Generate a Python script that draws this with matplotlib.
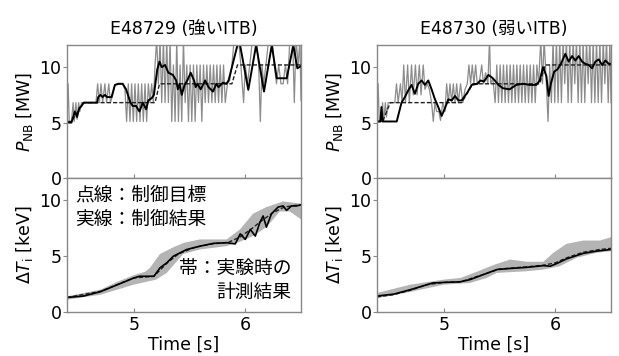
import numpy as np
import matplotlib
matplotlib.use("Agg")
import matplotlib.pyplot as plt

plt.rcParams['font.family'] = ['DejaVu Sans', 'Noto Sans CJK JP']
plt.rcParams['mathtext.fontset'] = 'dejavusans'

titles = ["E48729 (強いITB)", "E48730 (弱いITB)"]

# ---------------- top: P_NB ----------------
L_raw_t = [4.400, 4.410, 4.420, 4.440, 4.455, 4.465, 4.480, 4.490, 4.505, 4.515, 4.530, 4.660,
           4.675, 4.690, 4.705, 4.720, 4.740, 4.755, 4.775, 4.790, 4.810, 4.830, 4.900, 4.920,
           4.935, 4.950, 4.965, 4.980, 4.995, 5.010, 5.025, 5.040, 5.055, 5.070, 5.085, 5.100,
           5.115, 5.130, 5.145, 5.160, 5.175, 5.190, 5.205, 5.220, 5.235, 5.250, 5.265, 5.280,
           5.295, 5.310, 5.325, 5.340, 5.355, 5.370, 5.385, 5.400, 5.415, 5.430, 5.445, 5.460,
           5.475, 5.490, 5.505, 5.520, 5.535, 5.550, 5.565, 5.580, 5.595, 5.610, 5.625, 5.640,
           5.655, 5.670, 5.685, 5.700, 5.715, 5.730, 5.745, 5.760, 5.775, 5.790, 5.805, 5.820,
           5.840, 5.860, 5.880, 5.900, 5.940, 5.960, 5.985, 6.000, 6.020, 6.040, 6.065, 6.100,
           6.120, 6.135, 6.150, 6.165, 6.185, 6.210, 6.240, 6.260, 6.280, 6.300, 6.320, 6.340,
           6.360, 6.380, 6.400, 6.425, 6.440, 6.455, 6.475, 6.490, 6.500]
L_raw_v = [5.1, 8.5, 5.1, 5.1, 6.8, 5.1, 6.8, 5.3, 6.8, 6.0, 6.8, 6.8,
           8.5, 6.8, 8.5, 6.8, 8.5, 6.8, 8.5, 6.8, 7.5, 8.4, 8.5, 8.0,
           5.1, 8.5, 5.1, 8.5, 5.1, 8.5, 5.1, 8.5, 5.1, 8.5, 5.1, 8.5,
           5.1, 8.5, 6.8, 8.5, 6.8, 10.2, 12.5, 8.5, 12.5, 6.8, 12.5, 6.8,
           12.5, 6.8, 12.5, 5.1, 10.2, 5.1, 12.5, 5.1, 10.2, 5.1, 12.5, 6.8,
           10.2, 5.1, 10.2, 5.1, 10.2, 5.1, 10.2, 6.8, 10.2, 5.1, 10.2, 6.8,
           10.2, 6.8, 10.2, 6.8, 10.2, 6.8, 10.2, 6.8, 10.2, 6.8, 10.2, 6.8,
           8.5, 8.8, 10.2, 12.5, 12.5, 10.2, 6.8, 10.2, 8.5, 10.2, 12.5, 12.5,
           10.2, 5.1, 10.2, 8.5, 10.2, 12.5, 12.5, 10.2, 8.5, 10.2, 8.5, 8.5,
           10.2, 8.5, 12.5, 12.5, 6.8, 12.5, 10.2, 12.5, 7.0]
L_res_t = [4.400, 4.440, 4.470, 4.490, 4.510, 4.530, 4.550, 4.670, 4.680, 4.700, 4.720, 4.740,
           4.760, 4.800, 4.830, 4.860, 4.900, 4.930, 4.970, 4.990, 5.020, 5.050, 5.080, 5.110,
           5.130, 5.160, 5.180, 5.210, 5.230, 5.250, 5.280, 5.310, 5.350, 5.380, 5.395, 5.410,
           5.430, 5.455, 5.480, 5.510, 5.540, 5.555, 5.570, 5.600, 5.640, 5.670, 5.710, 5.740,
           5.760, 5.800, 5.830, 5.850, 5.880, 5.930, 5.953, 6.027, 6.097, 6.168, 6.238, 6.282,
           6.372, 6.431, 6.467, 6.500]
L_res_v = [5.0, 5.0, 6.0, 5.5, 6.3, 6.5, 6.8, 6.8, 7.3, 7.5, 7.3, 7.5,
           7.3, 7.3, 8.4, 8.5, 8.5, 8.0, 6.8, 6.5, 6.5, 6.0, 6.8, 6.2,
           7.0, 7.2, 7.5, 9.8, 10.5, 10.0, 10.2, 9.5, 9.3, 8.8, 8.0, 8.5,
           7.5, 8.4, 8.8, 9.5, 8.8, 8.2, 8.5, 8.0, 8.8, 8.2, 7.8, 8.5,
           8.2, 8.6, 8.5, 8.8, 10.0, 12.0, 12.0, 7.95, 12.0, 7.8, 12.0, 9.0,
           9.0, 12.0, 9.9, 10.1]
L_tgt_t = [4.40, 4.44, 4.55, 5.19, 5.23, 5.88, 5.93, 6.50]
L_tgt_v = [5.1, 5.1, 6.8, 6.8, 8.5, 8.5, 10.2, 10.2]

R_raw_t = [4.400, 4.410, 4.420, 4.440, 4.450, 4.460, 4.475, 4.485, 4.500, 4.520, 4.560, 4.575,
           4.590, 4.610, 4.625, 4.640, 4.655, 4.675, 4.690, 4.710, 4.725, 4.745, 4.760, 4.780,
           4.795, 4.815, 4.830, 4.850, 4.870, 4.890, 4.905, 4.920, 4.935, 4.955, 4.970, 4.990,
           5.010, 5.025, 5.040, 5.055, 5.070, 5.085, 5.100, 5.115, 5.130, 5.150, 5.170, 5.190,
           5.210, 5.225, 5.240, 5.255, 5.270, 5.285, 5.300, 5.320, 5.340, 5.355, 5.375, 5.395,
           5.410, 5.420, 5.440, 5.460, 5.475, 5.490, 5.505, 5.520, 5.535, 5.550, 5.565, 5.580,
           5.595, 5.610, 5.625, 5.640, 5.655, 5.670, 5.685, 5.700, 5.715, 5.730, 5.745, 5.760,
           5.775, 5.790, 5.805, 5.820, 5.835, 5.850, 5.870, 5.885, 5.900, 5.920, 5.935, 5.950,
           5.965, 5.980, 5.995, 6.010, 6.025, 6.040, 6.055, 6.070, 6.085, 6.100, 6.115, 6.130,
           6.145, 6.160, 6.175, 6.190, 6.205, 6.220, 6.235, 6.250, 6.265, 6.280, 6.295, 6.310,
           6.325, 6.340, 6.355, 6.370, 6.385, 6.400, 6.415, 6.430, 6.445, 6.460, 6.475, 6.490,
           6.500]
R_raw_v = [5.1, 8.5, 5.1, 5.1, 6.8, 5.1, 6.8, 5.5, 6.8, 6.8, 6.8, 8.5,
           6.8, 8.5, 6.8, 10.2, 6.8, 10.2, 6.8, 10.2, 7.5, 10.2, 7.5, 10.2,
           7.5, 10.2, 8.0, 8.5, 8.0, 6.8, 5.1, 6.8, 6.0, 6.0, 5.2, 6.8,
           6.0, 8.5, 6.8, 8.5, 6.8, 8.5, 6.8, 8.5, 6.8, 8.5, 6.8, 8.0,
           8.5, 10.2, 8.5, 10.2, 8.5, 10.2, 8.5, 8.8, 10.2, 8.5, 9.5, 8.5,
           12.5, 8.5, 9.0, 6.8, 10.2, 6.8, 10.2, 6.8, 10.2, 6.8, 10.2, 6.8,
           10.2, 6.8, 10.2, 6.8, 10.2, 6.8, 10.2, 6.8, 10.2, 6.8, 10.2, 6.8,
           10.2, 6.8, 10.2, 6.8, 10.2, 8.5, 12.5, 8.5, 12.5, 8.5, 5.1, 10.2,
           6.8, 12.5, 6.8, 12.5, 6.8, 12.5, 6.8, 12.5, 8.5, 12.5, 6.8, 12.5,
           6.8, 12.5, 8.5, 12.5, 6.8, 12.5, 6.8, 12.5, 6.8, 12.5, 8.5, 12.5,
           6.8, 12.5, 6.8, 12.5, 6.8, 12.5, 6.8, 12.5, 8.5, 12.5, 6.8, 12.5,
           6.8]
R_res_t = [4.400, 4.430, 4.440, 4.450, 4.577, 4.620, 4.650, 4.680, 4.710, 4.740, 4.770, 4.800,
           4.830, 4.860, 4.890, 4.920, 4.950, 4.980, 5.010, 5.040, 5.070, 5.100, 5.130, 5.160,
           5.210, 5.250, 5.300, 5.330, 5.360, 5.400, 5.440, 5.490, 5.530, 5.590, 5.650, 5.710,
           5.770, 5.830, 5.860, 5.890, 5.920, 5.940, 5.960, 5.990, 6.020, 6.050, 6.090, 6.120,
           6.150, 6.180, 6.210, 6.240, 6.270, 6.300, 6.330, 6.360, 6.390, 6.420, 6.450, 6.480,
           6.500]
R_res_v = [5.1, 5.1, 6.4, 5.1, 5.1, 6.8, 7.3, 7.9, 8.4, 7.6, 8.5, 8.8,
           8.4, 8.8, 8.0, 7.1, 6.4, 5.6, 6.3, 7.1, 7.0, 7.4, 7.0, 7.0,
           7.7, 8.4, 8.5, 8.8, 8.7, 9.3, 9.0, 8.4, 8.1, 8.0, 8.4, 8.5,
           8.4, 8.4, 8.8, 10.0, 9.2, 7.4, 8.5, 9.6, 9.8, 10.3, 11.2, 10.5,
           11.0, 10.6, 11.0, 10.5, 10.3, 10.2, 9.9, 10.5, 10.7, 10.2, 10.6, 10.3,
           10.3]
R_tgt_t = [4.40, 4.45, 4.52, 5.16, 5.26, 5.86, 5.91, 6.50]
R_tgt_v = [5.1, 5.1, 6.8, 6.8, 8.5, 8.5, 10.2, 10.2]

# ---------------- bottom: delta Ti ----------------
L_ti_t = [4.40, 4.55, 4.70, 4.85, 5.00, 5.05, 5.18, 5.235, 5.295, 5.355, 5.475, 5.595,
          5.715, 5.835, 5.91, 5.955, 6.00, 6.045, 6.09, 6.13, 6.16, 6.19, 6.235, 6.295,
          6.34, 6.37, 6.415, 6.46, 6.50]
L_ti_v = [1.30, 1.43, 1.82, 2.43, 3.05, 3.20, 3.20, 3.96, 4.40, 5.00, 5.60, 5.90,
          6.15, 6.20, 6.10, 7.00, 6.50, 7.40, 6.80, 8.00, 8.60, 7.60, 8.80, 9.40,
          9.50, 9.10, 9.50, 9.50, 9.60]
L_tit_t = [4.40, 4.70, 5.00, 5.18, 5.30, 5.40, 5.55, 5.70, 5.85, 5.95, 6.05, 6.15,
           6.25, 6.35, 6.45, 6.50]
L_tit_v = [1.30, 1.85, 3.05, 3.20, 4.40, 5.20, 5.80, 6.10, 6.25, 6.70, 7.40, 8.20,
           8.90, 9.40, 9.55, 9.60]
L_up_t = [4.40, 4.70, 4.85, 5.00, 5.10, 5.145, 5.235, 5.355, 5.45, 5.594, 5.833, 5.953,
          6.07, 6.19, 6.34, 6.50]
L_up_v = [1.40, 2.00, 2.70, 3.30, 3.60, 3.96, 5.20, 5.80, 6.20, 6.50, 6.50, 7.40,
          8.80, 9.40, 9.90, 9.70]
L_lo_t = [4.40, 4.70, 5.00, 5.20, 5.295, 5.444, 5.594, 5.833, 5.953, 6.07, 6.19, 6.31,
          6.40, 6.50]
L_lo_v = [1.10, 1.55, 2.45, 2.90, 3.50, 5.20, 5.60, 5.90, 6.30, 6.80, 7.60, 9.00,
          9.00, 8.30]

R_ti_t = [4.40, 4.55, 4.70, 4.85, 4.90, 5.00, 5.145, 5.235, 5.355, 5.475, 5.595, 5.745,
          5.895, 5.955, 6.015, 6.10, 6.25, 6.37, 6.50]
R_ti_v = [1.43, 1.60, 2.00, 2.45, 2.60, 2.65, 2.70, 2.90, 3.35, 3.80, 3.90, 4.00,
          4.15, 4.10, 4.35, 4.75, 5.25, 5.45, 5.60]
R_tit_t = [4.40, 4.55, 4.70, 4.85, 5.00, 5.15, 5.35, 5.50, 5.75, 5.90, 6.00, 6.10,
           6.25, 6.40, 6.50]
R_tit_v = [1.35, 1.55, 1.95, 2.45, 2.65, 2.70, 3.35, 3.85, 4.05, 4.20, 4.40, 4.85,
           5.35, 5.60, 5.70]
R_up_t = [4.40, 4.70, 5.00, 5.15, 5.295, 5.444, 5.594, 5.743, 5.893, 5.983, 6.10, 6.25,
          6.40, 6.50]
R_up_v = [1.70, 2.45, 2.90, 3.05, 3.60, 4.20, 4.70, 4.50, 4.50, 5.30, 6.10, 6.40,
          6.40, 6.70]
R_lo_t = [4.40, 4.70, 5.00, 5.235, 5.385, 5.474, 5.743, 5.893, 6.04, 6.19, 6.37, 6.50]
R_lo_v = [1.25, 1.80, 2.45, 2.60, 3.05, 3.50, 3.65, 3.80, 4.10, 4.85, 5.30, 5.45]

xticks = [5, 6]
yticks = [0, 5, 10]

# ---------------- figure ----------------
fig = plt.figure(figsize=(6.19, 3.56), dpi=100)
spine_c = '#888888'
fs = 12.5

lefts = [67 / 619, 377 / 619]
w = 234 / 619
panels = [
    (L_raw_t, L_raw_v, L_res_t, L_res_v, L_tgt_t, L_tgt_v,
     L_ti_t, L_ti_v, L_tit_t, L_tit_v, L_up_t, L_up_v, L_lo_t, L_lo_v),
    (R_raw_t, R_raw_v, R_res_t, R_res_v, R_tgt_t, R_tgt_v,
     R_ti_t, R_ti_v, R_tit_t, R_tit_v, R_up_t, R_up_v, R_lo_t, R_lo_v),
]

def style(ax):
    for s in ax.spines.values():
        s.set_color(spine_c)
        s.set_linewidth(1.0)
    ax.tick_params(axis='y', direction='out', color=spine_c, length=3, labelsize=fs, pad=1)
    ax.tick_params(axis='x', direction='in', color=spine_c, length=3, labelsize=fs, pad=3)
    ax.set_xlim(4.4, 6.5)
    ax.set_ylim(0, 12)
    ax.set_xticks(xticks)
    ax.set_yticks(yticks)

for i, p in enumerate(panels):
    (rt, rv, st, sv, tt, tv, bt, bv, btt, btv, ut, uv, lt, lv) = p
    axt = fig.add_axes([lefts[i], 0.5, w, 133 / 356])
    axb = fig.add_axes([lefts[i], 1 - 312 / 356, w, 134 / 356])
    style(axt)
    style(axb)
    axt.plot(rt, rv, color='#8c8c8c', lw=0.9)
    axt.plot(tt, tv, color='#222222', lw=1.0, ls=(0, (3, 1.5)))
    axt.plot(st, sv, color='black', lw=1.4)
    axt.set_xticklabels([])
    axt.set_ylabel(r'$P_{\rm NB}$ [MW]', fontsize=fs, labelpad=3)
    axt.set_title(titles[i], fontsize=fs, pad=8)

    axb.fill(np.concatenate([ut, lt[::-1]]), np.concatenate([uv, lv[::-1]]),
             color='#b4b4b4', lw=0)
    axb.plot(btt, btv, color='#222222', lw=1.0, ls=(0, (3, 1.5)))
    axb.plot(bt, bv, color='black', lw=1.2)
    axb.set_ylabel(r'$\Delta T_{\rm i}$ [keV]', fontsize=fs, labelpad=3)
    axb.set_xlabel('Time [s]', fontsize=fs, labelpad=1)

    if i == 0:
        axb.text(0.035, 0.95, '点線：制御目標\n実線：制御結果', transform=axb.transAxes,
                 ha='left', va='top', fontsize=13.5, linespacing=1.2,
                 family=['Noto Sans CJK JP', 'DejaVu Sans'])
        axb.text(0.96, 0.235, '帯：実験時の\n計測結果', transform=axb.transAxes,
                 ha='right', va='center', fontsize=13.5, linespacing=1.2,
                 multialignment='right',
                 family=['Noto Sans CJK JP', 'DejaVu Sans'])

fig.savefig('out.png', dpi=100)
